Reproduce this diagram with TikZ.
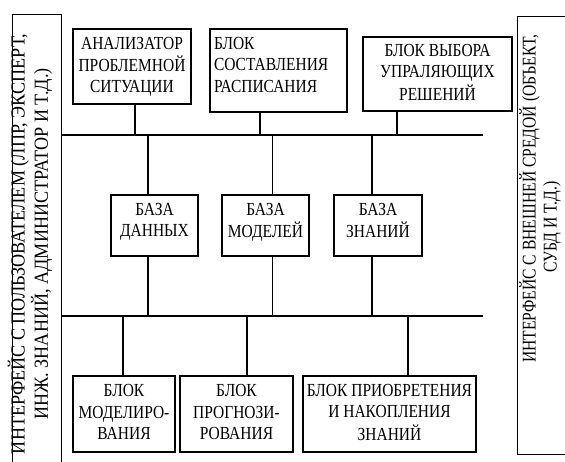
\documentclass[tikz,border=0pt]{standalone}
\usepackage{fontspec}
\usepackage{graphicx}
\setmainfont{Liberation Serif}
% condensed multi-line text: \cond{xscale}{column}{lines}
\newcommand{\cond}[3]{\scalebox{#1}[1]{\begin{tabular}{@{}#2@{}}#3\end{tabular}}}
\tikzset{
  blok/.style={draw, line width=1.2bp, inner sep=0pt,
    font=\fontsize{18.5}{21.5}\selectfont},
  iface/.style={draw, line width=1.2bp, inner sep=0pt, anchor=north west},
  sidetext/.style={inner sep=0pt, rotate=90},
  bus/.style={line width=1.3bp},
}
\begin{document}
\begin{tikzpicture}[x=1bp,y=-1bp]
  \useasboundingbox (0,0) rectangle (565,462);
  \clip (0,0) rectangle (565,462);
%%
  % Node: interface boxes
  \node[iface, minimum width=49bp, minimum height=470bp] (lbox) at (12,14) {};
  \node[iface, minimum width=70bp, minimum height=438bp] (rbox) at (517,16) {};
  \node[sidetext, font=\fontsize{20}{21.5}\selectfont] (user) at (31,244)
    {\cond{0.91}{c}{ИНТЕРФЕЙС С ПОЛЬЗОВАТЕЛЕМ (ЛПР, ЭКСПЕРТ,\\ИНЖ. ЗНАНИЙ, АДМИНИСТРАТОР И Т.Д.)}};
  \node[sidetext, font=\fontsize{19.5}{21}\selectfont] (env) at (541,198.5)
    {\cond{0.805}{l}{ИНТЕРФЕЙС С ВНЕШНЕЙ СРЕДОЙ (ОБЪЕКТ,\\\hspace*{112bp}СУБД И Т.Д.)}};
  % Node: upper blocks
  \node[blok, minimum width=118bp, minimum height=75bp] (anal) at (132,66.5)
    {\cond{0.84}{c}{АНАЛИЗАТОР\\ПРОБЛЕМНОЙ\\СИТУАЦИИ}};
  \node[blok, minimum width=137bp, minimum height=83bp, text width=129bp, inner xsep=4bp, align=left] (sost) at (278.5,70.5)
    {\raisebox{4bp}[\height][\depth]{\cond{0.84}{l}{БЛОК\\СОСТАВЛЕНИЯ\\РАСПИСАНИЯ}}};
  \node[blok, minimum width=149bp, minimum height=74bp] (vyb) at (437.5,74)
    {\cond{0.84}{c}{БЛОК ВЫБОРА\\УПРАЛЯЮЩИХ\\РЕШЕНИЙ}};
  % Node: bases
  \node[blok, minimum width=87bp, minimum height=61bp] (bd) at (154.5,225.5)
    {\raisebox{3.5bp}[\height][\depth]{\cond{0.84}{c}{БАЗА\\ДАННЫХ}}};
  \node[blok, minimum width=87bp, minimum height=61bp] (bm) at (265.5,225.5)
    {\raisebox{3.5bp}[\height][\depth]{\cond{0.84}{c}{БАЗА\\МОДЕЛЕЙ}}};
  \node[blok, minimum width=88bp, minimum height=61bp] (bz) at (378,225.5)
    {\raisebox{3.5bp}[\height][\depth]{\cond{0.84}{c}{БАЗА\\ЗНАНИЙ}}};
  % Node: lower blocks
  \node[blok, minimum width=102bp, minimum height=76bp] (bmod) at (124,414)
    {\cond{0.84}{c}{БЛОК\\МОДЕЛИРО-\\ВАНИЯ}};
  \node[blok, minimum width=113bp, minimum height=76bp] (bprog) at (236.5,414)
    {\cond{0.84}{c}{БЛОК\\ПРОГНОЗИ-\\РОВАНИЯ}};
  \node[blok, minimum width=173bp, minimum height=76bp] (bpri) at (389.5,414)
    {\cond{0.84}{c}{БЛОК ПРИОБРЕТЕНИЯ\\И НАКОПЛЕНИЯ\\ЗНАНИЙ}};
%%
  % Edge: buses
  \coordinate (tbus) at (483,135);
  \coordinate (bbus) at (483,316);
  \draw[bus] (lbox.east |- tbus) -- (tbus);
  \draw[bus] (lbox.east |- bbus) -- (bbus);
  % Edge: upper blocks -> top bus
  \draw[bus] ([xshift=3bp]anal.south) -- ([xshift=3bp]anal.south |- tbus);
  \draw[bus] ([xshift=-18.5bp]sost.south) -- ([xshift=-18.5bp]sost.south |- tbus);
  \draw[bus] ([xshift=-40.5bp]vyb.south) -- ([xshift=-40.5bp]vyb.south |- tbus);
  % Edge: bases -> both buses
  \draw[bus] ([xshift=-6.5bp]bd.north) -- ([xshift=-6.5bp]bd.north |- tbus);
  \draw[bus] ([xshift=-6.5bp]bd.south) -- ([xshift=-6.5bp]bd.south |- bbus);
  \draw[bus] ([xshift=7bp]bm.north) -- ([xshift=7bp]bm.north |- tbus);
  \draw[bus] ([xshift=7bp]bm.south) -- ([xshift=7bp]bm.south |- bbus);
  \draw[bus] ([xshift=-6bp]bz.north) -- ([xshift=-6bp]bz.north |- tbus);
  \draw[bus] ([xshift=-6bp]bz.south) -- ([xshift=-6bp]bz.south |- bbus);
  % Edge: bottom bus -> lower blocks
  \draw[bus] ([xshift=-1bp]bmod.north) -- ([xshift=-1bp]bmod.north |- bbus);
  \draw[bus] ([xshift=10.5bp]bprog.north) -- ([xshift=10.5bp]bprog.north |- bbus);
  \draw[bus] ([xshift=18.5bp]bpri.north) -- ([xshift=18.5bp]bpri.north |- bbus);
%
\end{tikzpicture}
\end{document}
